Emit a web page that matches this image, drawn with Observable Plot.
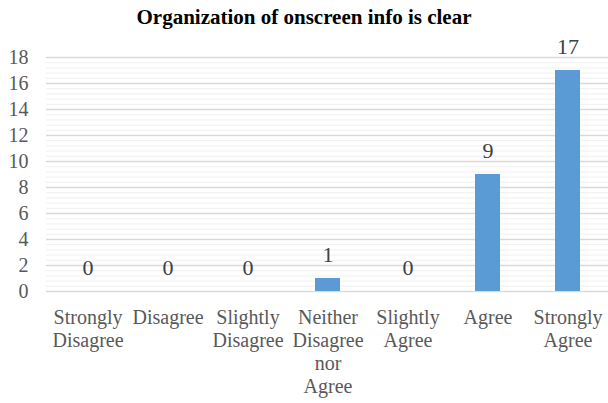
<!DOCTYPE html>
<html>
<head>
<meta charset="utf-8">
<script src="https://cdn.jsdelivr.net/npm/d3@7"></script>
<script src="https://cdn.jsdelivr.net/npm/@observablehq/plot@0.6"></script>
</head>
<body style="margin:0;background:#fff">
<div id="title" style="font-family:'Liberation Serif', 'Times New Roman', serif;font-weight:bold;font-size:21px;color:#000;text-align:center;height:28px;line-height:22px;padding-top:6px;box-sizing:border-box;width:608px;white-space:nowrap">Organization of onscreen info is clear</div>
<div id="chart"></div>
<script>
const categories = ["Strongly Disagree", "Disagree", "Slightly Disagree", "Neither Disagree nor Agree", "Slightly Agree", "Agree", "Strongly Agree"];
const tickLabels = ["Strongly\nDisagree", "Disagree", "Slightly\nDisagree", "Neither\nDisagree\nnor\nAgree", "Slightly\nAgree", "Agree", "Strongly\nAgree"];
const values = [0, 0, 0, 1, 0, 9, 17];
const yTicks = [0, 2, 4, 6, 8, 10, 12, 14, 16, 18];

const data = categories.map((c, i) => ({category: c, value: values[i]}));
const minorTicks = d3.range(0, 45).map(i => +(i * 0.4).toFixed(1)).filter(v => v % 2 !== 0);
const labelOf = new Map(categories.map((c, i) => [c, tickLabels[i]]));
const FONT = "'Liberation Serif', 'Times New Roman', serif";

const chart = Plot.plot({
  width: 608,
  height: 375,
  marginTop: 29,
  marginBottom: 112,
  marginLeft: 46,
  marginRight: 0,
  x: {domain: categories, paddingInner: 0.69, paddingOuter: 0.345, label: null},
  y: {domain: [0, 18], label: null},
  marks: [
    Plot.ruleY(minorTicks, {stroke: "#f0f0f0", strokeWidth: 1}),
    Plot.ruleY(yTicks, {stroke: "#d9d9d9", strokeWidth: 1.5}),
    Plot.barY(data, {x: "category", y: "value", fill: "#5B9BD5"}),
    Plot.text(data, {x: "category", y: "value", text: d => String(d.value), dy: -24, fontSize: 22, fill: "#404040"}),
    Plot.axisY({ticks: yTicks, tickSize: 0, tickPadding: 18, fontSize: 20, color: "#595959", label: null}),
    Plot.axisX({tickSize: 0, tickPadding: 16, fontSize: 20, color: "#595959", lineHeight: 1.15, textAnchor: "middle", label: null, tickFormat: d => labelOf.get(d)})
  ]
});
chart.setAttribute("font-family", FONT);
chart.style.fontFamily = FONT;
document.getElementById("chart").appendChild(chart);
</script>
</body>
</html>
